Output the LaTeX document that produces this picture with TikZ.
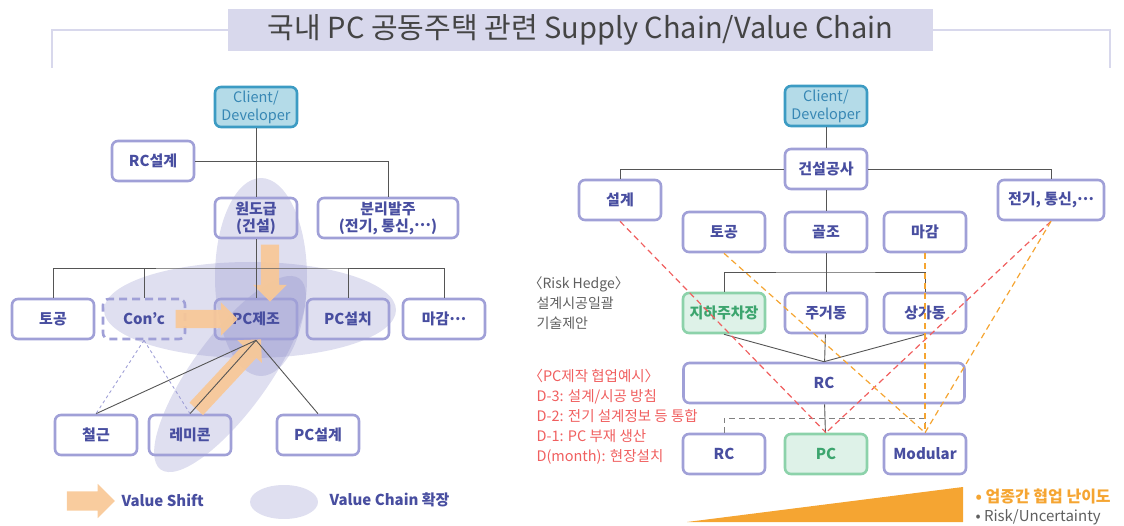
\documentclass[tikz,border=0pt]{standalone}
\usepackage{fontspec}
\setmainfont{Noto Sans CJK KR}
\usetikzlibrary{shapes.geometric,shapes.arrows}
\definecolor{boxline}{RGB}{160,160,215}
\definecolor{boxtext}{RGB}{72,78,160}
\definecolor{clientfill}{RGB}{180,219,232}
\definecolor{clientline}{RGB}{60,155,195}
\definecolor{clienttext}{RGB}{55,135,180}
\definecolor{greenfill}{RGB}{222,242,232}
\definecolor{greenline}{RGB}{140,210,170}
\definecolor{greentext}{RGB}{60,165,110}
\definecolor{chainfill}{RGB}{140,140,200}
\definecolor{shiftfill}{RGB}{249,200,150}
\definecolor{titlefill}{RGB}{216,216,236}
\definecolor{titletext}{RGB}{68,68,68}
\definecolor{linkline}{RGB}{85,85,85}
\definecolor{hedgered}{RGB}{240,95,95}
\definecolor{hardorange}{RGB}{245,165,50}
\definecolor{notegray}{RGB}{95,95,95}
\newcommand{\middots}{\raisebox{0.3em}{…}}

\begin{document}
\begin{tikzpicture}[
		x=1pt, y=-1pt,
		box/.style={rectangle, rounded corners=6pt, draw=boxline, line width=2.6pt,
			minimum width=82pt, minimum height=40pt, inner sep=2pt, align=center,
			text=boxtext, font=\fontsize{15}{17}\selectfont\bfseries},
		client/.style={box, fill=clientfill, draw=clientline, text=clienttext,
			font=\fontsize{14.5}{18}\selectfont},
		greenbox/.style={box, fill=greenfill, draw=greenline, text=greentext},
		valuechain/.style={ellipse, fill=chainfill, fill opacity=0.28, inner sep=0pt},
		valueshift/.style={single arrow, fill=shiftfill, fill opacity=0.92, inner xsep=0pt,
			inner ysep=9pt, single arrow head extend=7.5pt},
		link/.style={draw=linkline, line width=0.9pt},
		reddash/.style={draw=hedgered, line width=1.2pt, dash pattern=on 6pt off 4pt},
		orangedash/.style={draw=hardorange, line width=1.2pt, dash pattern=on 6pt off 4pt},
		note/.style={anchor=west, align=left, font=\fontsize{14}{20}\selectfont}
	]
  \useasboundingbox (0,0) rectangle (1124,526);

  \node (title) [fill=titlefill, minimum width=705pt, minimum height=42pt, text=titletext,
    font=\fontsize{29}{30}\selectfont] at (580.5,30) {국내 PC 공동주택 관련 Supply Chain/Value Chain};
  \coordinate (bracket_l) at (52,68);
  \coordinate (bracket_r) at (1110,68);
  \draw [titlefill, line width=2pt] (title.west) -| (bracket_l);
  \draw [titlefill, line width=2pt] (title.east) -| (bracket_r);

  \node (chain_h) [valuechain, minimum width=292pt, minimum height=96pt] at (250,310) {};
  \node (chain_v) [valuechain, minimum width=92pt, minimum height=198pt] at (261,277) {};
  \node (chain_d) [valuechain, minimum width=236pt, minimum height=76pt, rotate=54] at (230,374) {};

  \node (client_l) [client] at (256,107) {Client/\\Developer};
  \node (rc_design) [box] at (153,161) {RC설계};
  \node (main_con) [box] at (256,218) {원도급\\(건설)};
  \node (separate) [box, minimum width=140pt] at (388,218) {분리발주\\(전기, 통신,\middots)};
  \node (earth_l) [box] at (53,319) {토공};
  \node (concrete) [box, dash pattern=on 8pt off 5pt] at (144,319) {Con'c};
  \node (pc_make) [box] at (256,319) {PC제조};
  \node (pc_install) [box] at (348,319) {PC설치};
  \node (finish_l) [box] at (444,319) {마감\middots};
  \node (rebar) [box] at (96,435) {철근};
  \node (remicon) [box] at (190,435) {레미콘};
  \node (pc_design) [box] at (318,435) {PC설계};
  \coordinate (bus_l) at (256,268);

  \node (shift_down) [valueshift, minimum height=57pt, rotate=-90] at (270,268.5) {};
  \node (shift_right) [valueshift, minimum height=62pt] at (202,319) {};
  \node (shift_diag) [valueshift, minimum height=95pt, rotate=47] at (225.5,377.5) {};

  \draw [link] (client_l) -- (main_con);
  \draw [link] (rc_design.east) -| (separate.north);
  \draw [link] (main_con) -- (pc_make);
  \draw [link] (earth_l.north) |- (bus_l) -| (finish_l.north);
  \draw [link] (concrete.north) -- (concrete.north |- bus_l);
  \draw [link] (pc_install.north) -- (pc_install.north |- bus_l);
  \draw [link] (pc_make.south) -- (rebar.north);
  \draw [link] (pc_make.south) -- (remicon.north);
  \draw [link] (pc_make.south) -- (pc_design.north);
  \draw [boxline, line width=0.9pt, dashed] (concrete.south) -- (rebar.north);
  \draw [boxline, line width=0.9pt, dashed] (concrete.south) -- (remicon.north);

  \node (legend_shift) [valueshift, minimum height=48pt, inner ysep=9.5pt] at (86,501) {};
  \node (legend_shift_text) [note, text=boxtext, font=\fontsize{15}{17}\selectfont\bfseries] at (118,500) {Value Shift};
  \node (legend_chain) [valuechain, minimum width=68pt, minimum height=34pt] at (284,502) {};
  \node (legend_chain_text) [note, text=boxtext, font=\fontsize{15}{17}\selectfont\bfseries] at (326,500) {Value Chain 확장};

  \node (client_r) [client] at (826,106) {Client/\\Developer};
  \node (construct) [box] at (826,169) {건설공사};
  \node (design_r) [box] at (620,200) {설계};
  \node (elec) [box, minimum width=106pt] at (1051,200) {전기, 통신,\middots};
  \node (earth_r) [box] at (724,232) {토공};
  \node (frame) [box] at (826,232) {골조};
  \node (finish_r) [box] at (925,232) {마감};
  \node (parking) [greenbox] at (724,313) {지하주차장};
  \node (housing) [box] at (826,313) {주거동};
  \node (retail) [box] at (925,313) {상가동};
  \node (rc_all) [box, minimum width=281pt] at (824,383) {RC};
  \node (rc_unit) [box] at (724,454) {RC};
  \node (pc_unit) [greenbox] at (826,454) {PC};
  \node (modular) [box] at (925,454) {Modular};
  \coordinate (bus_r) at (826,272);
  \coordinate (dash_bend) at (826,418);

  \draw [link] (client_r) -- (construct);
  \draw [link] (design_r.north) |- (construct.west);
  \draw [link] (construct.east) -| (elec.north);
  \draw [link] (construct) -- (frame);
  \draw [link] (frame) -- (housing);
  \draw [link] (parking.north) |- (bus_r) -| (retail.north);
  \draw [link] (housing) -- (rc_all);
  \draw [link] (parking.south) -- (rc_all.north);
  \draw [link] (retail.south) -- (rc_all.north);
  \draw [link] (rc_all) -- (pc_unit);
  \draw [draw=gray, line width=1pt, dash pattern=on 6pt off 4pt] (rc_unit.north) |- (dash_bend) -| (modular.north);

  \draw [reddash] (design_r.south) -- (pc_unit.north);
  \draw [reddash] (elec.south) -- (pc_unit.north);
  \draw [orangedash] (earth_r.south) -- (modular.north);
  \draw [orangedash] (finish_r.south) -- (modular.north);
  \draw [orangedash] (elec.south) -- (modular.north);

  \node (hedge) [note, text=notegray] at (533,303) {\kern-8pt〈Risk Hedge〉\\설계시공일괄\\기술제안};
  \node (pc_steps) [note, text=hedgered, font=\fontsize{14.5}{20}\selectfont] at (533,417) {\kern-8pt〈PC제작 협업예시〉\\D-3: 설계/시공 방침\\D-2: 전기 설계정보 등 통합\\D-1: PC 부재 생산\\D(month): 현장설치};

  \fill [hardorange] (687,522) -- (963,487) -- (963,522) -- cycle;
  \node (difficulty) [note, text=hardorange, font=\fontsize{16}{17}\selectfont\bfseries] at (972,496) {• 업종간 협업 난이도};
  \node (risk) [note, text=notegray, font=\fontsize{15}{17}\selectfont] at (972,517) {• Risk/Uncertainty};
\end{tikzpicture}
\end{document}
